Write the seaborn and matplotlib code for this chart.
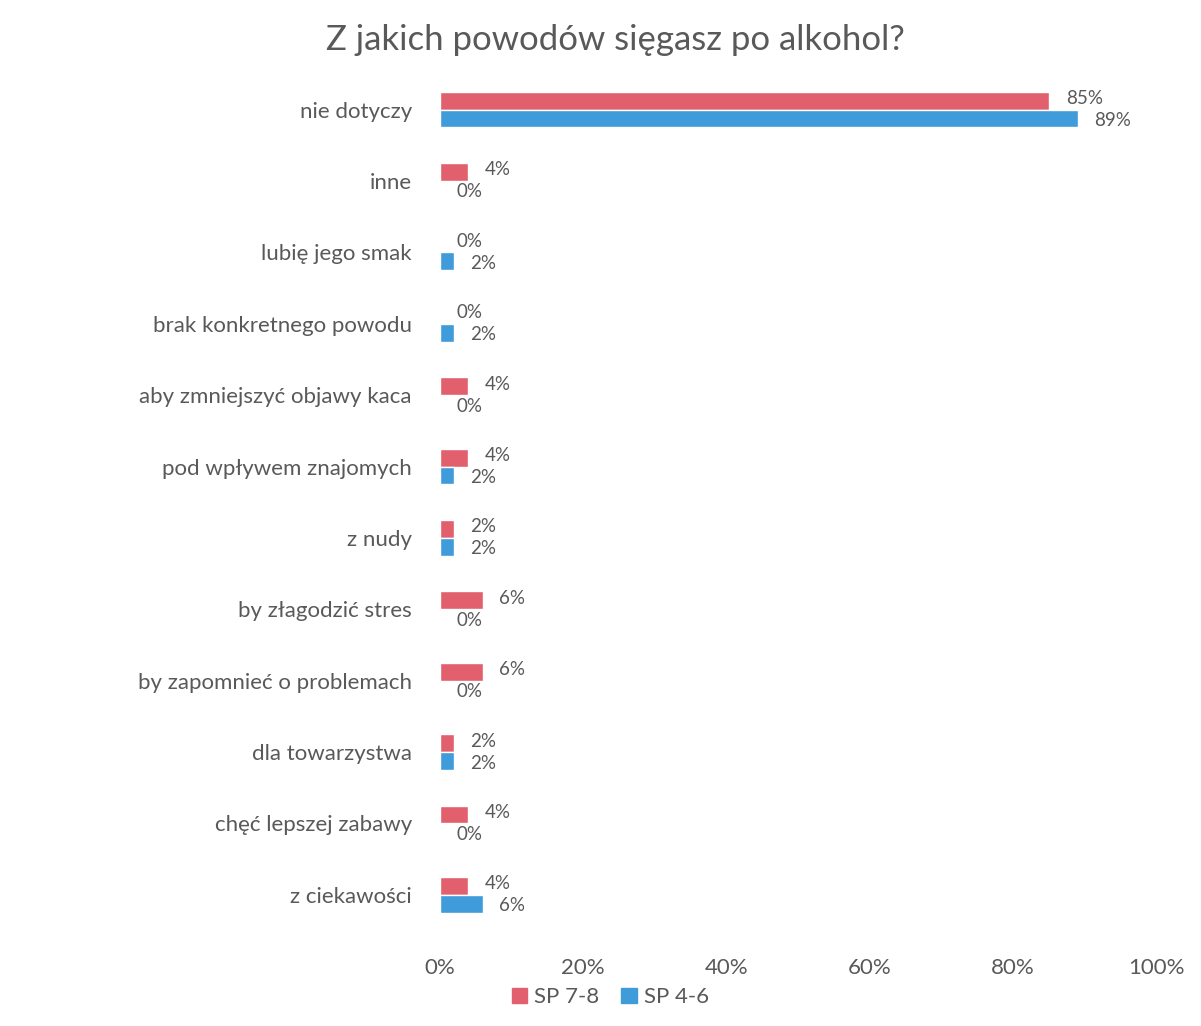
import matplotlib
matplotlib.use("Agg")
import matplotlib.pyplot as plt
import pandas as pd
import seaborn as sns

# data
categories = ["nie dotyczy", "inne", "lubię jego smak", "brak konkretnego powodu",
              "aby zmniejszyć objawy kaca", "pod wpływem znajomych", "z nudy",
              "by złagodzić stres", "by zapomnieć o problemach", "dla towarzystwa",
              "chęć lepszej zabawy", "z ciekawości"]
sp78 = [85, 4, 0, 0, 4, 4, 2, 6, 6, 2, 4, 4]
sp46 = [89, 0, 2, 2, 0, 2, 2, 0, 0, 2, 0, 6]
series = ["SP 7-8", "SP 4-6"]
xticks = [0, 20, 40, 60, 80, 100]

df = pd.DataFrame({
    "powod": categories * 2,
    "grupa": [series[0]] * len(categories) + [series[1]] * len(categories),
    "proc": sp78 + sp46,
})

sns.set_style("white")
plt.rcParams["font.family"] = ["Lato", "DejaVu Sans"]
grey = "#595959"
colors = {"SP 7-8": "#E2606D", "SP 4-6": "#3F9BDA"}

fig = plt.figure(figsize=(12.01, 10.26), dpi=100)
ax = fig.add_axes([0.366, 0.093, 0.597, 0.835])

sns.barplot(data=df, x="proc", y="powod", hue="grupa", hue_order=series,
            order=categories, palette=colors, orient="h", width=0.5,
            saturation=1, ax=ax, legend=False)

# red labels nudged up, blue ones down, like the original
for cont, dy in zip(ax.containers, [1.5, -1.5]):
    labels = ax.bar_label(cont, fmt="%.0f%%", padding=12, fontsize=13.5, color=grey)
    for t in labels:
        t.set_y(dy)

ax.set_xlim(0, 100)
ax.set_xticks(xticks)
ax.set_xticklabels([f"{t}%" for t in xticks])
ax.tick_params(axis="both", length=0, labelsize=16, labelcolor=grey)
ax.tick_params(axis="x", pad=20)
ax.tick_params(axis="y", pad=20)
ax.set_xlabel("")
ax.set_ylabel("")
sns.despine(ax=ax, left=True, bottom=True)

handles = [plt.Rectangle((0, 0), 1, 1, color=colors[s]) for s in series]
fig.legend(handles, series, loc="center", bbox_to_anchor=(0.508, 0.028), ncol=2,
           frameon=False, fontsize=16, labelcolor=grey, handlelength=0.7,
           handleheight=0.7, handletextpad=0.3, columnspacing=1.0)

fig.suptitle("Z jakich powodów sięgasz po alkohol?", x=0.512, y=0.977,
             fontsize=25, color=grey)

fig.savefig("out.png", dpi=100)
